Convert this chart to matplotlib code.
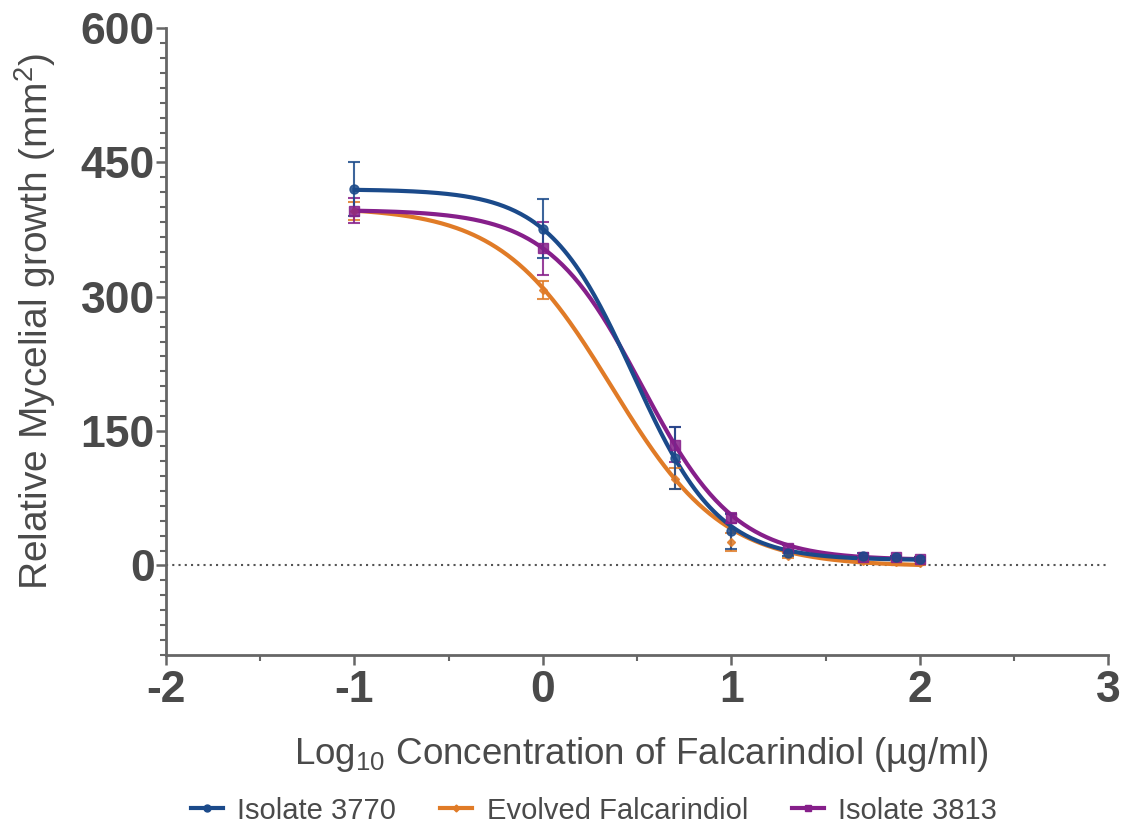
import numpy as np
import matplotlib.pyplot as plt
from matplotlib.ticker import MultipleLocator
from matplotlib.lines import Line2D

# log10 concentrations
log_conc = [-1, 0, 0.7, 1, 1.3, 1.7, 1.875, 2]

# mean growth + error
iso3770 = [420, 376, 120, 38, 14, 11, 9, 7]
iso3770_err = [30, 33, 35, 20, 3, 3, 2, 2]
evolved = [396, 308, 97, 26, 11, 5, 4, 3]
evolved_err = [10, 10, 12, 10, 3, 2, 2, 2]
iso3813 = [396, 354, 135, 53, 20, 9, 9, 7]
iso3813_err = [14, 30, 20, 6, 3, 2, 2, 2]

# 4PL fit parameters (top, bottom, logIC50, hill)
fit3770 = (420, 6, 0.48, 1.92)
fit_evolved = (400, -1, 0.365, 1.47)
fit3813 = (397, 6, 0.523, 1.74)

labels = ["Isolate 3770", "Evolved Falcarindiol", "Isolate 3813"]
colors = ["#1B4A8A", "#E07B27", "#861F8A"]
markers = ["o", "D", "s"]

def four_pl(x, top, bottom, c, h):
    return bottom + (top - bottom) / (1 + 10 ** ((x - c) * h))

plt.rcParams['font.family'] = ['Liberation Sans', 'DejaVu Sans']
plt.rcParams['axes.unicode_minus'] = False
plt.rcParams['mathtext.fontset'] = 'custom'
plt.rcParams['mathtext.rm'] = 'Liberation Sans'
plt.rcParams['mathtext.default'] = 'regular'
gray = "#4a4a4a"

fig = plt.figure(figsize=(11.25, 8.26), dpi=100)
ax = fig.add_axes([0.1476, 0.207, 0.8374, 0.759])

xs = np.linspace(-1, 2, 300)
series = [(iso3770, iso3770_err, fit3770), (evolved, evolved_err, fit_evolved),
          (iso3813, iso3813_err, fit3813)]
order = [1, 2, 0]
for i in order:
    y, e, p = series[i]
    ax.plot(xs, four_pl(xs, *p), color=colors[i], lw=3, zorder=3)
    ax.errorbar(log_conc, y, yerr=e, fmt=markers[i], color=colors[i], ms=6.5 if i != 1 else 4,
                capsize=4, elinewidth=1.5, capthick=1.5, alpha=0.85, zorder=4)

ax.axhline(0, color="#555555", lw=1.5, ls=(0, (1, 2)), zorder=1)

ax.set_xlim(-2, 3)
ax.set_ylim(-100, 600)
ax.set_xticks([-2, -1, 0, 1, 2, 3])
ax.set_yticks([0, 150, 300, 450, 600])
ax.xaxis.set_minor_locator(MultipleLocator(0.5))
ax.yaxis.set_minor_locator(MultipleLocator(150 / 9))

for s in ["top", "right"]:
    ax.spines[s].set_visible(False)
for s in ["left", "bottom"]:
    ax.spines[s].set_color("#666666")
    ax.spines[s].set_linewidth(2)

ax.tick_params(which="major", length=7, width=1.8, color="#666666", labelcolor=gray,
               labelsize=32)
ax.tick_params(axis="x", which="major", pad=4)
ax.tick_params(axis="y", which="major", pad=1)
ax.tick_params(which="minor", length=4, width=1.5, color="#666666")
ax.set_xticklabels(["-2", "-1", "0", "1", "2", "3"], fontweight="bold")
ax.set_yticklabels(["0", "150", "300", "450", "600"], fontweight="bold")

# axis titles
fig.text(0.57, 0.086, "Log$_{10}$ Concentration of Falcarindiol (µg/ml)", fontsize=26.5,
         color=gray, ha="center", va="center")
fig.text(0.031, 0.611, "Relative Mycelial growth (mm$^2$)", fontsize=28, color=gray,
         ha="center", va="center", rotation=90)

handles = [Line2D([0], [0], color=colors[i], lw=3, marker=markers[i],
                  ms=5 if i != 1 else 3.5) for i in range(3)]
fig.legend(handles, labels, loc="lower center", ncol=3, frameon=False, fontsize=21,
           bbox_to_anchor=(0.528, -0.03), handlelength=1.1, handletextpad=0.5,
           columnspacing=1.5, labelcolor=gray)

fig.savefig("out.png", dpi=100)
